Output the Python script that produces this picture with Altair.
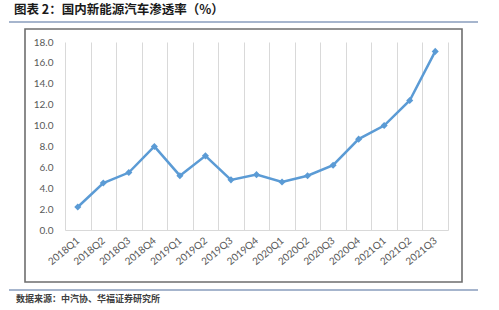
import altair as alt
import pandas as pd

# Quarterly penetration rate of new energy vehicles in China (%)
quarters = ["2018Q1", "2018Q2", "2018Q3", "2018Q4",
            "2019Q1", "2019Q2", "2019Q3", "2019Q4",
            "2020Q1", "2020Q2", "2020Q3", "2020Q4",
            "2021Q1", "2021Q2", "2021Q3"]
rates = [2.2, 4.5, 5.5, 8.0, 5.2, 7.1, 4.8, 5.3, 4.6, 5.2, 6.2, 8.7, 10.0, 12.4, 17.1]
y_ticks = [0, 2, 4, 6, 8, 10, 12, 14, 16, 18]

title_text = "图表 2：国内新能源汽车渗透率（%）"
source_text = "数据来源：中汽协、华福证券研究所"

df = pd.DataFrame({"quarter": quarters, "rate": rates})

LINE_BLUE = "#5B9BD5"
LABEL_GREY = "#595959"
RULE_BLUE = "#4F6C9C"
CJK = "Noto Sans CJK SC"

x_enc = alt.X(
    "quarter:N", sort=quarters, title=None,
    scale=alt.Scale(paddingInner=0, paddingOuter=0),
    axis=alt.Axis(
        labelAngle=320, labelAlign="right", labelBaseline="middle",
        labelColor=LABEL_GREY, labelFont="Lato", labelFontSize=10,
        labelPadding=9, ticks=False, tickBand="extent",
        grid=True, gridColor="#D9D9D9", gridWidth=1,
        domain=True, domainColor="#D9D9D9", domainWidth=1,
    ),
)
y_enc = alt.Y(
    "rate:Q", title=None,
    scale=alt.Scale(domain=[0, 18], nice=False),
    axis=alt.Axis(
        values=y_ticks, format=".1f", grid=False, domain=False, ticks=False,
        labelColor=LABEL_GREY, labelFont="Lato", labelFontSize=10,
        labelPadding=12,
    ),
)

base = alt.Chart(df)

line = base.mark_line(color=LINE_BLUE, strokeWidth=2.5).encode(x=x_enc, y=y_enc)
points = base.mark_point(
    shape="diamond", filled=True, color=LINE_BLUE, size=50, opacity=1
).encode(x=x_enc, y=y_enc)

# Decorations around the plot: outer frame, header/footer rules and texts
frame = alt.Chart(pd.DataFrame({"k": [0]})).mark_rect(
    fill=None, stroke="#6E6E6E", strokeWidth=1.6, clip=False
).encode(x=alt.value(-40), x2=alt.value(397), y=alt.value(-13), y2=alt.value(240))

top_rule = alt.Chart(pd.DataFrame({"k": [0]})).mark_rule(
    color=RULE_BLUE, strokeWidth=1.2, clip=False
).encode(x=alt.value(-56), x2=alt.value(413), y=alt.value(-20))

bottom_rule = alt.Chart(pd.DataFrame({"k": [0]})).mark_rule(
    color=RULE_BLUE, strokeWidth=1.2, clip=False
).encode(x=alt.value(-56), x2=alt.value(413), y=alt.value(248))

title = alt.Chart(pd.DataFrame({"t": [title_text]})).mark_text(
    align="left", baseline="middle", font=CJK, fontSize=12.5, fontWeight="bold",
    color="#1A1A1A", clip=False
).encode(x=alt.value(-51), y=alt.value(-32), text="t:N")

source = alt.Chart(pd.DataFrame({"t": [source_text]})).mark_text(
    align="left", baseline="middle", font=CJK, fontSize=9, fontWeight="bold",
    color="#404040", clip=False
).encode(x=alt.value(-49), y=alt.value(257), text="t:N")

chart = alt.layer(frame, top_rule, bottom_rule, title, source, line, points).properties(
    width=383, height=188,
    autosize=alt.AutoSizeParams(type="none"),
    padding={"left": 65, "top": 42, "right": 51, "bottom": 80},
    background="white",
).configure_view(stroke=None)

chart.save("out.html", embed_options={"renderer": "svg", "actions": False})
